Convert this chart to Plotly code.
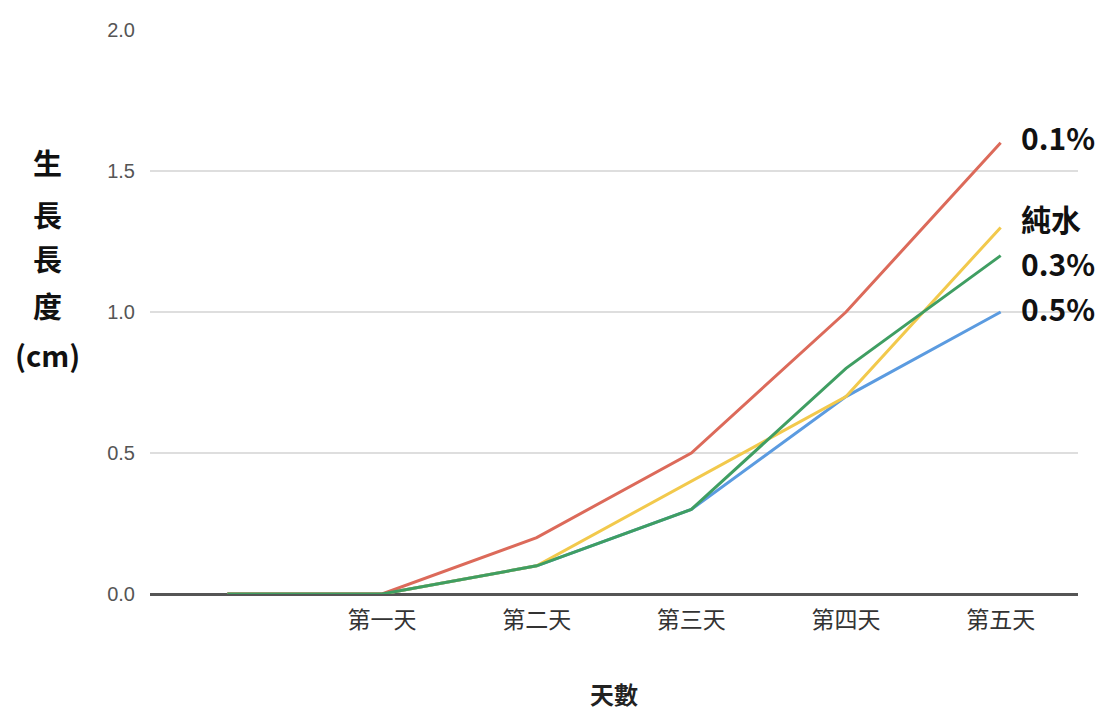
import plotly.graph_objects as go

categories = ["", "第一天", "第二天", "第三天", "第四天", "第五天"]
series_names = ["0.5%", "純水", "0.1%", "0.3%"]
v_05 = [0, 0, 0.1, 0.3, 0.7, 1.0]
v_water = [0, 0, 0.1, 0.4, 0.7, 1.3]
v_01 = [0, 0, 0.2, 0.5, 1.0, 1.6]
v_03 = [0, 0, 0.1, 0.3, 0.8, 1.2]
colors = ["#5b9be0", "#f2c94c", "#dc6a5a", "#3f9e62"]
end_labels = ["0.5%", "純水", "0.1%", "0.3%"]
label_y = [1.015, 1.335, 1.62, 1.175]
y_title_lines = ["生", "長", "長", "度", "(cm)"]
y_title_pos = [549, 497, 453, 406, 357]  # pixel offsets from bottom of figure

values = [v_05, v_water, v_01, v_03]
x_idx = list(range(len(categories)))

fig = go.Figure()
for name, vals, col in zip(series_names, values, colors):
    fig.add_trace(go.Scatter(x=x_idx, y=vals, mode="lines", name=name,
                             line=dict(color=col, width=3)))

for txt, yv in zip(end_labels, label_y):
    fig.add_annotation(x=5, y=yv, xref="x", yref="y", text=f"<b>{txt}</b>",
                       showarrow=False, xanchor="left", xshift=18,
                       font=dict(size=30, color="#111", family="Noto Sans CJK TC"))

# vertical stacked y-axis title
H = 711
for txt, p in zip(y_title_lines, y_title_pos):
    fig.add_annotation(xref="paper", yref="paper",
                       x=(47 - 150) / (1111 - 150 - 33),
                       y=(p - 117) / (H - 30 - 117),
                       text=f"<b>{txt}</b>", showarrow=False,
                       xanchor="center", yanchor="middle",
                       font=dict(size=29, color="#111", family="Noto Sans CJK TC"))

fig.update_layout(
    width=1111, height=711,
    margin=dict(l=150, r=33, t=30, b=117, autoexpand=False),
    paper_bgcolor="white", plot_bgcolor="white",
    showlegend=False,
    font=dict(family="Noto Sans CJK TC"),
    xaxis=dict(range=[-0.5, 5.5], tickmode="array", tickvals=x_idx, ticktext=categories,
               showgrid=False, zeroline=False, showline=False, automargin=False,
               tickfont=dict(size=23, color="#333"), ticklabelstandoff=10,
               title=dict(text="<b>天數</b>", font=dict(size=24, color="#222"), standoff=55)),
    yaxis=dict(range=[0, 2.0], tickvals=[0, 0.5, 1.0, 1.5, 2.0],
               ticktext=["0.0", "0.5", "1.0", "1.5", "2.0"],
               showgrid=True, gridcolor="#dedede", gridwidth=2,
               zeroline=True, zerolinecolor="#555", zerolinewidth=3,
               automargin=False,
               tickfont=dict(size=20, color="#555", family="Liberation Sans"),
               ticklabelstandoff=14),
)

fig.write_html("out.html")
